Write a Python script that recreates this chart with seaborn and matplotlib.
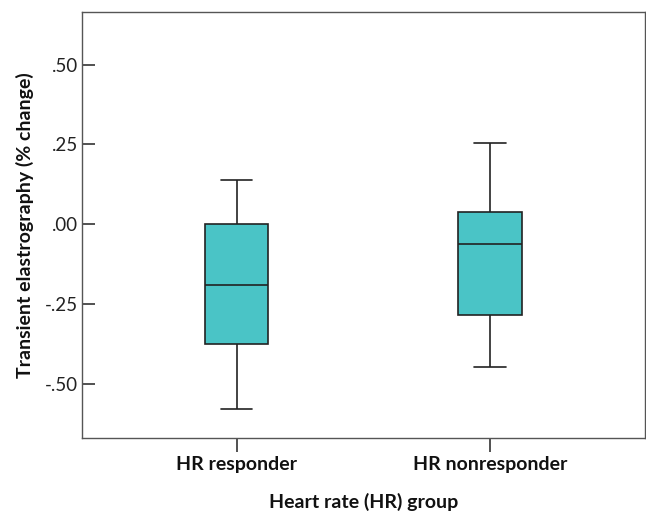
import numpy as np
import pandas as pd
import seaborn as sns
import matplotlib.pyplot as plt
from matplotlib.ticker import FuncFormatter

# five-number summaries (min, q1, median, q3, max)
groups = ['HR responder', 'HR nonresponder']
responder = [-0.578, -0.375, -0.19, 0.0, 0.14]
nonresponder = [-0.447, -0.284, -0.062, 0.038, 0.256]

df = pd.DataFrame({
    'group': [groups[0]] * len(responder) + [groups[1]] * len(nonresponder),
    'value': responder + nonresponder,
})

sns.set_style('white')
plt.rcParams['font.family'] = ['Lato', 'DejaVu Sans']

fig = plt.figure(figsize=(6.46, 5.12), dpi=100)
ax = fig.add_axes([0.127, 0.1445, 0.871, 0.8321])

sns.boxplot(data=df, x='group', y='value', order=groups, color='#4ac4c6',
            saturation=1, width=0.25, whis=1.5, linewidth=1.2, linecolor='#222222',
            showfliers=False, ax=ax)

ax.set_xlim(-0.61, 1.61)
ax.set_ylim(-0.67, 0.665)
ax.set_yticks([-0.5, -0.25, 0.0, 0.25, 0.5])
ax.yaxis.set_major_formatter(FuncFormatter(lambda v, p: f'{v:.2f}'.replace('0.', '.')))

for s in ax.spines.values():
    s.set_color('#555555')
    s.set_linewidth(1.0)

ax.tick_params(axis='y', direction='in', length=9, width=1.1, color='#222222',
               labelsize=13.5, pad=3, left=True, labelcolor='#222222')
ax.tick_params(axis='x', direction='out', length=10, width=1.1, color='#222222',
               labelsize=14, pad=3, bottom=True, labelcolor='#111111')
for t in ax.get_xticklabels():
    t.set_fontweight('bold')

ax.set_xlabel('Heart rate (HR) group', fontsize=14, fontweight='bold', labelpad=14, color='#111111')
ax.set_ylabel('Transient elastrography (% change)', fontsize=14, fontweight='bold', labelpad=8, color='#111111')

fig.savefig('out.png', dpi=100)
